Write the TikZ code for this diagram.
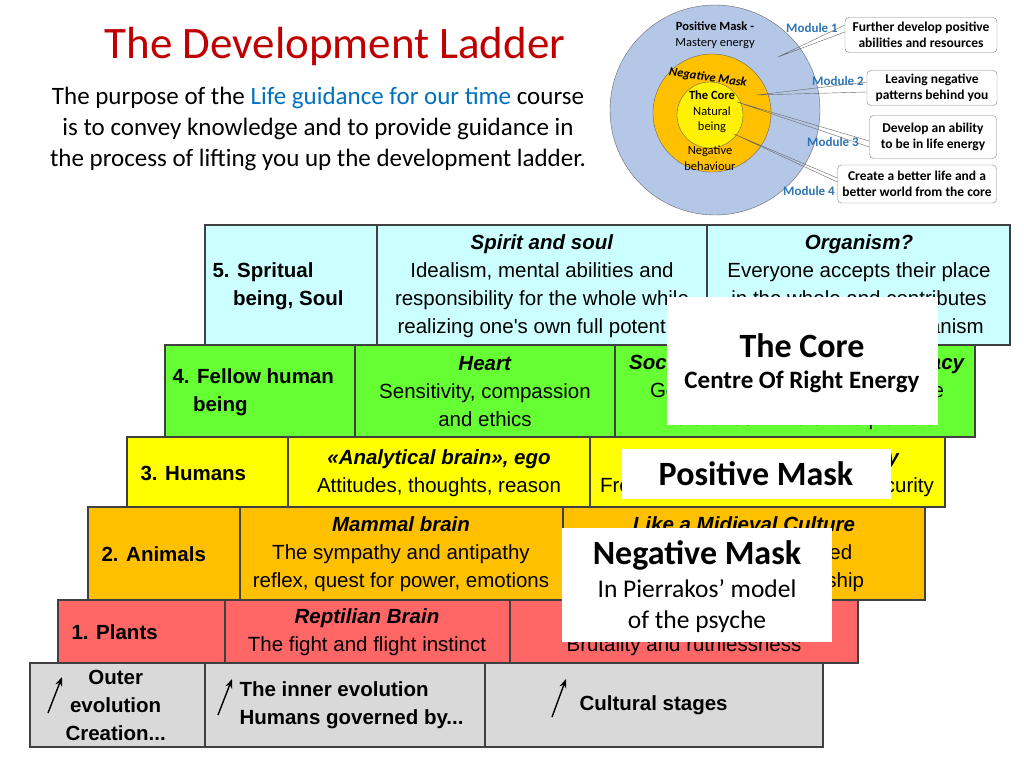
\documentclass[tikz,border=0pt]{standalone}
\usepackage{fontspec}
\setmainfont{Carlito}
\newfontfamily\arialf{Liberation Sans}
\usetikzlibrary{positioning,arrows.meta}
\definecolor{ladred}{HTML}{C00000}
\definecolor{ladblue}{HTML}{0070C0}
\definecolor{modblue}{HTML}{2E75B6}
\definecolor{rowcyan}{HTML}{CCFFFF}
\definecolor{rowgreen}{HTML}{66FF33}
\definecolor{rowyellow}{HTML}{FFFF00}
\definecolor{roworange}{HTML}{FFC000}
\definecolor{rowred}{HTML}{FF6666}
\definecolor{rowgrey}{HTML}{D9D9D9}
\definecolor{ringblue}{HTML}{B4C7E7}
\tikzset{
  cell/.style={draw=black!75, line width=1.2pt},
  tab/.style={font=\arialf\fontsize{20.5}{28}\selectfont, align=center, anchor=center},
  lab/.style={font=\arialf\bfseries\fontsize{20.5}{28}\selectfont, align=left, anchor=west},
  ring/.style={font=\fontsize{12.5}{15.5}\selectfont, align=center},
  module/.style={font=\bfseries\fontsize{13}{15}\selectfont, text=modblue},
  aim/.style={draw=black!50, rounded corners=4pt, fill=white, font=\bfseries\fontsize{13.5}{16.5}\selectfont, align=center, inner sep=0pt},
  cover/.style={fill=white, inner sep=0pt},
  big/.style={font=\bfseries\fontsize{34}{38}\selectfont},
  up/.style={-{Stealth[length=9pt,width=7pt]}, line width=1.4pt}
}
\begin{document}
\begin{tikzpicture}[x=1pt, y=-1pt]
\useasboundingbox (0,0) rectangle (1024,768);

% Title and purpose
\node[text=ladred, font=\fontsize{45}{50}\selectfont] (title) at (335,47) {The Development Ladder};
\node[font=\fontsize{25}{31}\selectfont, align=center] (purpose) at (318,129)
  {The purpose of the \textcolor{ladblue}{Life guidance for our time} course\\
   is to convey knowledge and to provide guidance in\\
   the process of lifting you up the development ladder.};

% Rings of the psyche
\fill[ringblue, draw=black!60] (715,110) circle (105);
\fill[roworange, draw=black!60] (712,113) circle (59);
\fill[yellow, draw=black!60] (710,115) circle (33);
\node[ring] (posmask) at (715,35) {\textbf{Positive Mask -}\\Mastery energy};
\node[ring, rotate=-8] (negring) at (708,78) {\textbf{\itshape Negative Mask}};
\node[ring] (core) at (712,112) {\textbf{The Core}\\Natural\\being};
\node[ring] (negbeh) at (710,158) {Negative\\behaviour};
\coordinate (p1) at (778,57);
\coordinate (p2) at (757,95);
\coordinate (p3) at (737,102);
\coordinate (p4) at (734,134);

% Modules
\node[aim, minimum width=152pt, minimum height=35pt] (aim1) at (921,35) {Further develop positive\\abilities and resources};
\node[aim, minimum width=130pt, minimum height=35pt] (aim2) at (932,88) {Leaving negative\\patterns behind you};
\node[aim, minimum width=127pt, minimum height=43pt] (aim3) at (933,137) {Develop an ability\\to be in life energy};
\node[aim, minimum width=159pt, minimum height=38pt] (aim4) at (917,184) {Create a better life and a\\better world from the core};
\node[module] (mod1) at (812,28) {Module 1};
\node[module] (mod2) at (838,81) {Module 2};
\node[module] (mod3) at (833,142) {Module 3};
\node[module] (mod4) at (809,191) {Module 4};
\draw[black!60] (p1) -- ([yshift=3pt]aim1.west) (p1) -- ([yshift=10pt]aim1.west);
\draw[black!60] (p2) -- ([yshift=-4pt]aim2.west) (p2) -- ([yshift=6pt]aim2.west);
\draw[black!60] (p3) -- ([yshift=-10pt]aim3.west) (p3) -- ([yshift=-4pt]aim3.west);
\draw[black!60] (p4) -- ([yshift=2pt]aim4.west) (p4) -- ([yshift=6pt]aim4.west);

% Ladder rows, bottom to top
\draw[cell, fill=rowgrey] (30,663) rectangle (823,747) (205,663) -- (205,747) (485,663) -- (485,747);
\draw[cell, fill=rowred] (58,600) rectangle (858,663) (225,600) -- (225,663) (510,600) -- (510,663);
\draw[cell, fill=roworange] (88,507) rectangle (925,600) (240,507) -- (240,600) (563,507) -- (563,600);
\draw[cell, fill=rowyellow] (127,437) rectangle (945,507) (288,437) -- (288,507) (590,437) -- (590,507);
\draw[cell, fill=rowgreen] (165,345) rectangle (975,437) (355,345) -- (355,437) (615,345) -- (615,437);
\draw[cell, fill=rowcyan] (205,225) rectangle (1010,345) (377,225) -- (377,345) (707,225) -- (707,345);

% Row 5
\node[lab] (l5) at (209,286) {5. Spritual\\\hspace{1em}being, Soul};
\node[tab] (m5) at (542,286) {\textbf{\itshape Spirit and soul}\\Idealism, mental abilities and\\responsibility for the whole while\\realizing one's own full potential};
\node[tab] (r5) at (859,286) {\textbf{\itshape Organism?}\\Everyone accepts their place\\in the whole and contributes\\to the good of the organism};
% Row 4
\node[lab] (l4) at (169,392) {4. Fellow human\\\hspace{1em}being};
\node[tab] (m4) at (485,392) {\textbf{\itshape Heart}\\Sensitivity, compassion\\and ethics};
\node[tab] (r4) at (797,392) {\textbf{\itshape Social and sustainable democracy}\\Good life for everyone within the\\tolerance limits of the planet};
% Row 3
\node[lab] (l3) at (137,473) {3. Humans};
\node[tab] (m3) at (439,473) {\textbf{\itshape «Analytical brain», ego}\\Attitudes, thoughts, reason};
\node[tab] (r3) at (767,473) {\textbf{\itshape Modern welfare democracy}\\Freedom, welfare and social security};
% Row 2
\node[lab] (l2) at (98,554) {2. Animals};
\node[tab] (m2) at (401,554) {\textbf{\itshape Mammal brain}\\The sympathy and antipathy\\reflex, quest for power, emotions};
\node[tab] (r2) at (744,554) {\textbf{\itshape Like a Midieval Culture}\\Hierarchical and ranked\\feudal society, dictatorship};
% Row 1
\node[lab] (l1) at (68,632) {1. Plants};
\node[tab] (m1) at (367,632) {\textbf{\itshape Reptilian Brain}\\The fight and flight instinct};
\node[tab] (r1) at (684,632) {\textbf{\itshape Tribal culture}\\Brutality and ruthlessness};
% Row 0
\node[lab, align=center] (l0) at (62,705) {Outer\\evolution\\Creation...};
\node[lab] (m0) at (236,705) {The inner evolution\\Humans governed by...};
\node[lab] (r0) at (576,705) {Cultural stages};
\coordinate (a0) at (48,713);
\coordinate (b0) at (218,715);
\coordinate (c0) at (552,717);
\draw[up] (a0) -- ++(14,-36);
\draw[up] (b0) -- ++(14,-36);
\draw[up] (c0) -- ++(14,-38);

% Overlays
\node[cover, minimum width=271pt, minimum height=128pt] (corebox) at (802,361) {};
\node[big] (coretitle) at (802,346) {The Core};
\node[font=\bfseries\fontsize{25}{28}\selectfont] (coresub) at (802,382) {Centre Of Right Energy};
\node[cover, big, minimum width=269pt, minimum height=50pt] (posbox) at (756,474) {Positive Mask};
\node[cover, minimum width=270pt, minimum height=114pt] (negbox) at (697,585) {};
\node[big] (negtitle) at (697,555) {Negative Mask};
\node[font=\fontsize{25.5}{31}\selectfont, align=center] (negsub) at (697,606) {In Pierrakos' model\\of the psyche};
\end{tikzpicture}
\end{document}
